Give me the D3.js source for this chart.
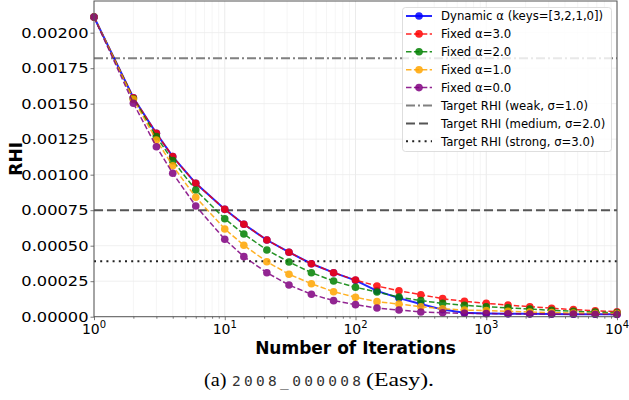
<!DOCTYPE html>
<html lang="en">
<head>
<meta charset="UTF-8"/>
<title>RHI vs iterations</title>
<script src="https://d3js.org/d3.v7.min.js"></script>
<style>
  body { margin: 0; background: #fff; }
  svg { display: block; }
  .tick text { font-family: "DejaVu Sans", sans-serif; fill: #000; }
</style>
</head>
<body>
<script>
// data
var iters = [1, 2, 3, 4, 6, 10, 14, 21, 31, 46, 68, 100, 146, 215, 316, 464, 681, 1000, 1467, 2154, 3162, 4641, 6812, 10000];

var dynamicRHI = [0.00211, 0.001542, 0.001291, 0.001127, 0.000939, 0.000756, 0.000651, 0.000540, 0.000454, 0.000373, 0.000310, 0.000256,
                  0.000182, 0.000131, 0.000090, 0.000050, 0.000028, 0.000023, 0.000021, 0.000020, 0.000019, 0.000018, 0.000017, 0.000017];
var fixed3 = [0.00211, 0.001542, 0.001291, 0.001127, 0.000939, 0.000756, 0.000651, 0.000540, 0.000454, 0.000373, 0.000310, 0.000258,
              0.000216, 0.000183, 0.000155, 0.000127, 0.000108, 0.000094, 0.000082, 0.000070, 0.000060, 0.000050, 0.000042, 0.000035];
var fixed2 = [0.00211, 0.001535, 0.001268, 0.001099, 0.000892, 0.000690, 0.000582, 0.000470, 0.000385, 0.000310, 0.000251, 0.000207,
              0.000174, 0.000138, 0.000113, 0.000094, 0.000080, 0.000070, 0.000062, 0.000054, 0.000045, 0.000038, 0.000032, 0.000028];
var fixed1 = [0.00211, 0.00153, 0.001244, 0.001063, 0.000841, 0.000618, 0.000503, 0.000387, 0.000299, 0.000232, 0.000176, 0.000137,
              0.000106, 0.000089, 0.000070, 0.000056, 0.000047, 0.000043, 0.000038, 0.000033, 0.000029, 0.000026, 0.000023, 0.000022];
var fixed0 = [0.00211, 0.001503, 0.001197, 0.001010, 0.000780, 0.000545, 0.000423, 0.000310, 0.000223, 0.000158, 0.000113, 0.000085,
              0.000061, 0.000047, 0.000033, 0.000028, 0.000024, 0.000022, 0.000021, 0.000019, 0.000018, 0.000018, 0.000017, 0.000016];

var seriesNames = ["Dynamic \u03b1 (keys=[3,2,1,0])", "Fixed \u03b1=3.0", "Fixed \u03b1=2.0", "Fixed \u03b1=1.0", "Fixed \u03b1=0.0"];
var targetNames = ["Target RHI (weak, \u03c3=1.0)", "Target RHI (medium, \u03c3=2.0)", "Target RHI (strong, \u03c3=3.0)"];
var targetValues = [0.00182, 0.00075, 0.00039];

var yTicks = [0, 0.00025, 0.0005, 0.00075, 0.001, 0.00125, 0.0015, 0.00175, 0.002];
var xTicks = [1, 10, 100, 1000, 10000];
var xTickExp = ["0", "1", "2", "3", "4"];

var w = 629, h = 400;
var plotL = 94, plotR = 617, plotT = 1, plotB = 316.7;

var colors = ["#0000ff", "#ff0000", "#008000", "#ffa500", "#800080"];
var dashes = [null, "5.5,2.4", "5.5,2.4", "5.5,2.4", "5.5,2.4"];
var targetColors = ["#808080", "#555555", "#222222"];
var targetDash = ["9,3,2,3", "9,4", "2,4.2"];

var allSeries = [dynamicRHI, fixed3, fixed2, fixed1, fixed0];

var xScale = d3.scaleLog().domain([1, 10000]).range([plotL, plotR]);
var yScale = d3.scaleLinear().domain([0, 0.002223]).range([plotB, plotT]);

var svg = d3.select("body").append("svg")
    .attr("width", w)
    .attr("height", h);

// grid
var minor = [];
for (var e = 0; e < 4; e++) {
    for (var m = 1; m < 10; m++) minor.push(m * Math.pow(10, e));
}
minor.push(10000);

svg.append("g").selectAll("line")
    .data(minor)
    .enter().append("line")
    .attr("x1", function(d) { return xScale(d); })
    .attr("x2", function(d) { return xScale(d); })
    .attr("y1", plotT).attr("y2", plotB)
    .attr("stroke", function(d) { return xTicks.indexOf(d) >= 0 ? "#e6e6e6" : "#f2f2f2"; })
    .attr("stroke-width", 0.8);

svg.append("g").selectAll("line")
    .data(yTicks)
    .enter().append("line")
    .attr("x1", plotL).attr("x2", plotR)
    .attr("y1", function(d) { return yScale(d); })
    .attr("y2", function(d) { return yScale(d); })
    .attr("stroke", "#ececec")
    .attr("stroke-width", 0.8);

// target lines
svg.append("g").selectAll("line")
    .data(targetValues)
    .enter().append("line")
    .attr("x1", plotL).attr("x2", plotR)
    .attr("y1", function(d) { return yScale(d); })
    .attr("y2", function(d) { return yScale(d); })
    .attr("stroke", function(d, i) { return targetColors[i]; })
    .attr("stroke-width", 2)
    .attr("stroke-dasharray", function(d, i) { return targetDash[i]; });

// series
var line = d3.line()
    .x(function(d) { return xScale(d[0]); })
    .y(function(d) { return yScale(d[1]); });

allSeries.forEach(function(vals, i) {
    var pts = iters.map(function(x, j) { return [x, vals[j]]; });
    var g = svg.append("g").attr("opacity", 0.85);
    g.append("path")
        .datum(pts)
        .attr("d", line)
        .attr("fill", "none")
        .attr("stroke", colors[i])
        .attr("stroke-width", i == 0 ? 2 : 1.5)
        .attr("stroke-dasharray", dashes[i]);
    g.selectAll("circle")
        .data(pts)
        .enter().append("circle")
        .attr("cx", function(d) { return xScale(d[0]); })
        .attr("cy", function(d) { return yScale(d[1]); })
        .attr("r", 3.8)
        .attr("fill", colors[i]);
});

// axes
var yAxis = d3.axisLeft(yScale)
    .tickValues(yTicks)
    .tickFormat(d3.format(".5f"))
    .tickSize(3.5)
    .tickPadding(3);

var gy = svg.append("g")
    .attr("transform", "translate(" + plotL + ",0)")
    .call(yAxis);
// the reference's labels are a little wider than the font's own shape
gy.selectAll("text")
    .style("font-size", "14px")
    .attr("x", 0)
    .attr("transform", "translate(-5.5,0) scale(1.16,1)");

var xAxis = d3.axisBottom(xScale)
    .tickValues(xTicks)
    .tickFormat("")
    .tickSize(3.5);

var gx = svg.append("g")
    .attr("transform", "translate(0," + plotB + ")")
    .call(xAxis);

var xMinor = d3.axisBottom(xScale)
    .tickValues(minor.filter(function(d) { return xTicks.indexOf(d) < 0; }))
    .tickFormat("")
    .tickSize(2);
var gxm = svg.append("g")
    .attr("transform", "translate(0," + plotB + ")")
    .call(xMinor);

[gx, gy, gxm].forEach(function(g) {
    g.select(".domain").remove();
    g.selectAll("line").attr("stroke", "#555").attr("stroke-width", 0.8);
});

var xl = svg.append("g").selectAll("text")
    .data(xTicks)
    .enter().append("text")
    .attr("x", function(d) { return xScale(d); })
    .attr("y", 334)
    .attr("text-anchor", "middle")
    .style("font-family", "DejaVu Sans, sans-serif")
    .style("font-size", "14px");
xl.append("tspan").text("10");
xl.append("tspan")
    .attr("dy", -6)
    .style("font-size", "10px")
    .text(function(d, i) { return xTickExp[i]; });

// frame
svg.append("rect")
    .attr("x", plotL).attr("y", plotT)
    .attr("width", plotR - plotL).attr("height", plotB - plotT)
    .attr("fill", "none")
    .attr("stroke", "#555")
    .attr("stroke-width", 1);

// labels
svg.append("text")
    .attr("x", (plotL + plotR) / 2)
    .attr("y", 354)
    .attr("text-anchor", "middle")
    .style("font-family", "DejaVu Sans, sans-serif")
    .style("font-weight", "bold")
    .style("font-size", "17px")
    .text("Number of Iterations");

svg.append("text")
    .attr("transform", "translate(22,  " + ((plotT + plotB) / 2) + ") rotate(-90)")
    .attr("text-anchor", "middle")
    .style("font-family", "DejaVu Sans, sans-serif")
    .style("font-weight", "bold")
    .style("font-size", "17px")
    .text("RHI");

// legend
var lg = svg.append("g");
lg.append("rect")
    .attr("x", 402.5).attr("y", 7.5)
    .attr("width", 209).attr("height", 144)
    .attr("rx", 3)
    .attr("fill", "#fff").attr("fill-opacity", 0.82)
    .attr("stroke", "#d5d5d5").attr("stroke-width", 0.8);

var legendNames = seriesNames.concat(targetNames);
legendNames.forEach(function(name, i) {
    var y = 16 + i * 17.9;
    var isSeries = i < 5;
    lg.append("line")
        .attr("x1", 406).attr("x2", 432)
        .attr("y1", y).attr("y2", y)
        .attr("stroke", isSeries ? colors[i] : targetColors[i - 5])
        .attr("stroke-width", isSeries ? (i == 0 ? 2 : 1.5) : 2)
        .attr("stroke-dasharray", isSeries ? dashes[i] : targetDash[i - 5])
        .attr("opacity", isSeries ? 0.85 : 1);
    if (isSeries) {
        lg.append("circle")
            .attr("cx", 419).attr("cy", y).attr("r", 3.8)
            .attr("fill", colors[i]).attr("opacity", 0.85);
    }
    lg.append("text")
        .attr("x", 441).attr("y", y + 4.3)
        .style("font-family", "DejaVu Sans, sans-serif")
        .style("font-size", "11.7px")
        .text(name);
});

// caption, three pieces so each lands where the reference has it
var capY = 385.5;
svg.append("text")
    .attr("x", 204).attr("y", capY)
    .attr("textLength", 22.5).attr("lengthAdjust", "spacingAndGlyphs")
    .style("font-family", "Liberation Serif, serif")
    .style("font-size", "18px")
    .text("(a)");
svg.append("text")
    .attr("x", 232).attr("y", capY)
    .attr("textLength", 129).attr("lengthAdjust", "spacing")
    .attr("fill", "#333")
    .style("font-family", "DejaVu Sans Mono, monospace")
    .style("font-size", "14.5px")
    .text("2008_000008");
svg.append("text")
    .attr("x", 366).attr("y", capY)
    .attr("textLength", 68).attr("lengthAdjust", "spacingAndGlyphs")
    .style("font-family", "Liberation Serif, serif")
    .style("font-size", "18px")
    .text("(Easy).");
</script>
</body>
</html>
